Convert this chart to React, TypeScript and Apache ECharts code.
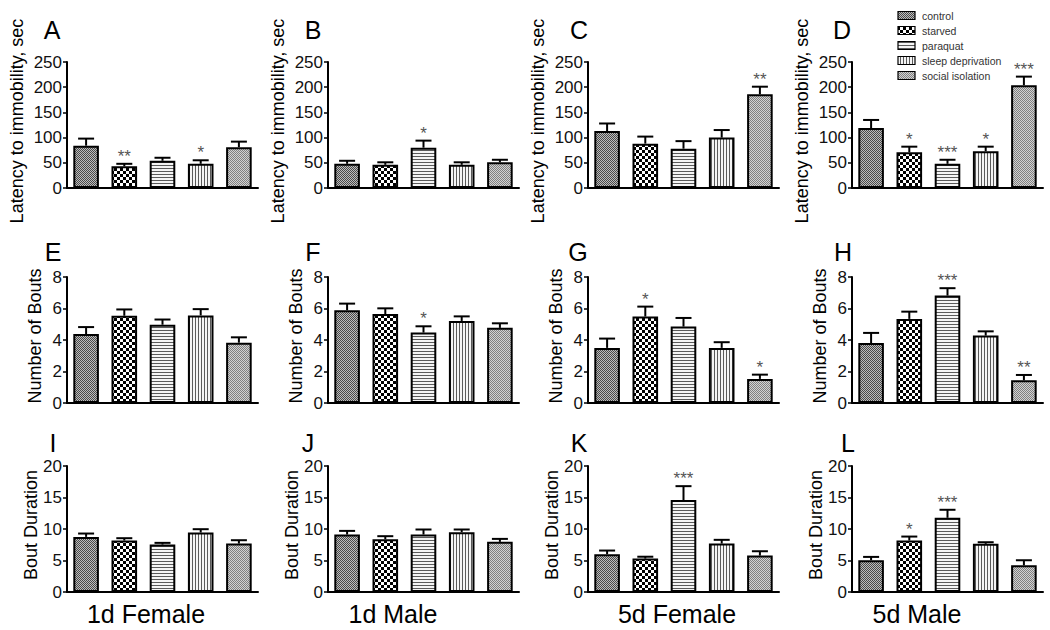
import React, { useEffect, useRef } from 'react';
import * as echarts from 'echarts';

// ---------- data ----------
const groups = ['control', 'starved', 'paraquat', 'sleep deprivation', 'social isolation'];
const conditions = ['1d Female', '1d Male', '5d Female', '5d Male'];
const panelLetters = ['A', 'B', 'C', 'D', 'E', 'F', 'G', 'H', 'I', 'J', 'K', 'L'];
const rowTitles = ['Latency to immobility, sec', 'Number of Bouts', 'Bout Duration'];
const rowMax = [250, 8, 20];
const rowInterval = [50, 2, 5];

// Latency to immobility (sec)
const latency1dF = [84, 43, 54, 48, 81];
const latency1dFErr = [14, 5, 6, 7, 11];
const latency1dFSig = ['', '**', '', '*', ''];
const latency1dM = [48, 46, 80, 46, 51];
const latency1dMErr = [6, 5, 14, 5, 5];
const latency1dMSig = ['', '', '*', '', ''];
const latency5dF = [113, 88, 78, 100, 186];
const latency5dFErr = [15, 14, 15, 15, 15];
const latency5dFSig = ['', '', '', '', '**'];
const latency5dM = [119, 71, 48, 73, 204];
const latency5dMErr = [16, 11, 8, 9, 17];
const latency5dMSig = ['', '*', '***', '*', '***'];

// Number of bouts
const bouts1dF = [4.38, 5.54, 4.97, 5.56, 3.83];
const bouts1dFErr = [0.44, 0.4, 0.33, 0.4, 0.34];
const bouts1dFSig = ['', '', '', '', ''];
const bouts1dM = [5.89, 5.65, 4.47, 5.21, 4.77];
const bouts1dMErr = [0.42, 0.36, 0.4, 0.29, 0.29];
const bouts1dMSig = ['', '', '*', '', ''];
const bouts5dF = [3.5, 5.49, 4.85, 3.5, 1.53];
const bouts5dFErr = [0.59, 0.63, 0.55, 0.36, 0.27];
const bouts5dFSig = ['', '*', '', '', '*'];
const bouts5dM = [3.81, 5.34, 6.82, 4.28, 1.44];
const bouts5dMErr = [0.64, 0.46, 0.47, 0.27, 0.34];
const bouts5dMSig = ['', '', '***', '', '**'];

// Bout duration
const duration1dF = [8.75, 8.17, 7.53, 9.44, 7.69];
const duration1dFErr = [0.53, 0.37, 0.27, 0.53, 0.53];
const duration1dFSig = ['', '', '', '', ''];
const duration1dM = [9.12, 8.38, 9.12, 9.5, 7.96];
const duration1dMErr = [0.58, 0.48, 0.8, 0.42, 0.47];
const duration1dMSig = ['', '', '', '', ''];
const duration5dF = [6.0, 5.3, 14.6, 7.69, 5.78];
const duration5dFErr = [0.58, 0.3, 2.2, 0.59, 0.69];
const duration5dFSig = ['', '', '***', '', ''];
const duration5dM = [5.04, 8.17, 11.78, 7.64, 4.24];
const duration5dMErr = [0.53, 0.63, 1.27, 0.26, 0.8];
const duration5dMSig = ['', '*', '***', '', ''];

const panels = [
  [latency1dF, latency1dFErr, latency1dFSig],
  [latency1dM, latency1dMErr, latency1dMSig],
  [latency5dF, latency5dFErr, latency5dFSig],
  [latency5dM, latency5dMErr, latency5dMSig],
  [bouts1dF, bouts1dFErr, bouts1dFSig],
  [bouts1dM, bouts1dMErr, bouts1dMSig],
  [bouts5dF, bouts5dFErr, bouts5dFSig],
  [bouts5dM, bouts5dMErr, bouts5dMSig],
  [duration1dF, duration1dFErr, duration1dFSig],
  [duration1dM, duration1dMErr, duration1dMSig],
  [duration5dF, duration5dFErr, duration5dFSig],
  [duration5dM, duration5dMErr, duration5dMSig],
] as [number[], number[], string[]][];

// ---------- layout ----------
const FONT = '"Liberation Sans", Arial, Helvetica, sans-serif';
const colLeft = [67, 328, 588, 852];
const colWidth = 191;
const rowTop = [62, 277, 466];
const rowHeight = 126;
const nameOffset = [50, 32, 36];
const nameCenterY = [121, 336, 525];
const letterPos = [
  [52, 30], [313, 30], [579, 30], [842, 30],
  [53, 252], [313, 252], [578, 252], [843, 252],
  [53, 443], [308, 443], [579, 443], [848, 443],
];
const conditionX = [146, 393, 677, 917];

function makePattern(kind: number) {
  const sizes = [[2, 2], [6, 6], [4, 3], [3, 4], [2, 2]];
  const [w, h] = sizes[kind];
  const c = document.createElement('canvas');
  c.width = w;
  c.height = h;
  const ctx = c.getContext('2d')!;
  for (let y = 0; y < h; y++) {
    for (let x = 0; x < w; x++) {
      let col = '#ffffff';
      if (kind === 0) col = (x + y) % 2 === 0 ? '#4a4a4a' : '#bdbdbd';
      else if (kind === 1) col = (Math.floor(x / 3) + Math.floor(y / 3)) % 2 === 0 ? '#000000' : '#ffffff';
      else if (kind === 2) col = y === 0 ? '#5a5a5a' : '#f4f4f4';
      else if (kind === 3) col = x === 0 ? '#5a5a5a' : '#f4f4f4';
      else col = (x + y) % 2 === 0 ? '#808080' : '#d2d2d2';
      ctx.fillStyle = col;
      ctx.fillRect(x, y, 1, 1);
    }
  }
  return { image: c.toDataURL(), repeat: 'repeat', imageWidth: w, imageHeight: h } as any;
}

export default function App() {
  const ref = useRef<HTMLDivElement>(null);
  useEffect(() => {
    document.body.style.margin = '0';
    const chart = echarts.init(ref.current!, null, { renderer: 'svg' });
    const patterns = groups.map((_, i) => makePattern(i));

    const grid: any[] = [];
    const xAxis: any[] = [];
    const yAxis: any[] = [];
    const series: any[] = [];
    const graphic: any[] = [];

    panels.forEach(([mean, err, sig], k) => {
      const r = Math.floor(k / 4);
      const c = k % 4;
      grid.push({ left: colLeft[c], top: rowTop[r], width: colWidth, height: rowHeight });
      xAxis.push({
        type: 'category', gridIndex: k, data: groups,
        axisLabel: { show: false }, axisTick: { show: false },
        axisLine: { lineStyle: { color: '#000', width: 2 } },
      });
      yAxis.push({
        type: 'value', gridIndex: k, min: 0, max: rowMax[r], interval: rowInterval[r],
        splitLine: { show: false },
        axisLine: { show: true, lineStyle: { color: '#000', width: 2 } },
        axisTick: { show: true, length: 4, lineStyle: { color: '#000', width: 1.5 } },
        axisLabel: { fontSize: 17, color: '#111', margin: 5, fontFamily: FONT },
      });
      series.push({
        type: 'bar', xAxisIndex: k, yAxisIndex: k, barWidth: '67%', silent: true,
        itemStyle: { borderColor: '#000', borderWidth: 2 },
        data: mean.map((v, i) => ({ value: v, itemStyle: { color: patterns[i] } })),
      });
      series.push({
        type: 'custom', xAxisIndex: k, yAxisIndex: k, z: 5, silent: true,
        data: mean.map((v, i) => [i, v, err[i]]),
        renderItem: (params: any, api: any) => {
          const base = api.coord([api.value(0), api.value(1)]);
          const top = api.coord([api.value(0), api.value(1) + api.value(2)]);
          const children: any[] = [
            { type: 'line', shape: { x1: base[0], y1: base[1], x2: top[0], y2: top[1] }, style: { stroke: '#000', lineWidth: 2 } },
            { type: 'line', shape: { x1: top[0] - 8, y1: top[1], x2: top[0] + 8, y2: top[1] }, style: { stroke: '#000', lineWidth: 2 } },
          ];
          const s = sig[params.dataIndex];
          if (s) {
            children.push({
              type: 'text',
              style: { text: s, x: top[0], y: top[1] + 1, align: 'center', verticalAlign: 'bottom', fontSize: 17, fontFamily: FONT, fill: '#555' },
            });
          }
          return { type: 'group', children };
        },
      });
      graphic.push({
        type: 'text', style: { text: panelLetters[k], x: letterPos[k][0], y: letterPos[k][1], align: 'center', verticalAlign: 'middle', fontSize: 25, fontFamily: FONT, fill: '#000' },
      });
      graphic.push({
        type: 'text', x: colLeft[c] - nameOffset[r], y: nameCenterY[r], rotation: Math.PI / 2,
        style: { text: rowTitles[r], x: 0, y: 0, align: 'center', verticalAlign: 'middle', fontSize: 18, fontFamily: FONT, fill: '#000' },
      });
    });

    conditions.forEach((t, c) => {
      graphic.push({
        type: 'text', style: { text: t, x: conditionX[c], y: 614, align: 'center', verticalAlign: 'middle', fontSize: 25, lineHeight: 26, fontFamily: FONT, fill: '#000' },
      });
    });

    groups.forEach((g, i) => {
      const cy = 15.5 + i * 15;
      graphic.push({
        type: 'rect', shape: { x: 898, y: cy - 4, width: 17, height: 8 },
        style: { fill: patterns[i], stroke: '#000', lineWidth: 1.2 },
      });
      graphic.push({
        type: 'text', style: { text: g, x: 922, y: cy, align: 'left', verticalAlign: 'middle', fontSize: 10.5, fontFamily: FONT, fill: '#333' },
      });
    });

    chart.setOption({
      animation: false,
      backgroundColor: '#fff',
      grid, xAxis, yAxis, series, graphic,
    });
    return () => chart.dispose();
  }, []);
  return <div ref={ref} style={{ width: 1050, height: 630 }} />;
}
